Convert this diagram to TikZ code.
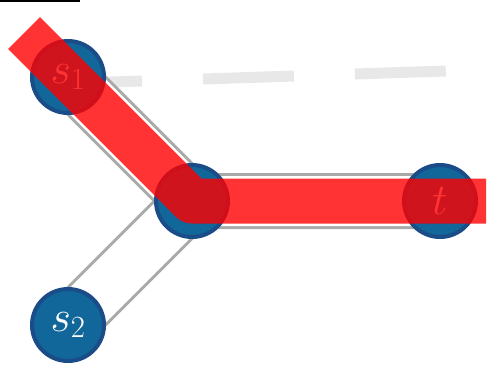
\RequirePackage{fix-cm}
\documentclass[tikz,border=0pt]{standalone}
\usetikzlibrary{calc,backgrounds}
\definecolor{vfill}{RGB}{17,102,154}
\definecolor{vline}{RGB}{26,76,135}
\definecolor{edgegray}{RGB}{168,170,168}
\definecolor{dashgray}{RGB}{232,232,232}
\tikzset{
  vertex/.style={circle, draw=vline, line width=4pt, fill=vfill, minimum size=72pt,
    inner sep=0pt, text=white, font=\fontsize{44}{44}\selectfont},
  edge/.style={draw=edgegray, line width=3pt, double=white, double distance=50pt},
  hint/.style={draw=dashgray, line width=11pt, dash pattern=on 91pt off 61pt},
  highlight/.style={draw=red, opacity=0.8, line width=45pt, line join=round, line cap=butt},
}
\begin{document}
\begin{tikzpicture}[x=1pt,y=-1pt]
  \useasboundingbox (0,0) rectangle (498,370);
  % short rule in the upper left corner
  \fill[black] (0,0) rectangle (80,1.7);

  % vertices
  \node[vertex] (s1) at (68,77) {$s_1$};
  \node[vertex] (m) at (192,201) {};
  \node[vertex] (t) at (440,201) {$t$};
  \node[vertex] (s2) at (68,325) {$s_2$};

  % light dashed hint starting behind s1
  \coordinate (d0) at (51,84);
  \coordinate (d1) at (446,71);

  \begin{scope}[on background layer]
    \draw[hint] (d0) -- (d1);
    \draw[edge] (s2.center) -- (m.center);
    \draw[edge] (s1.center) -- (m.center) -- (t.center);
  \end{scope}

  % highlighted path s1 -> m -> t
  \coordinate (h0) at ($(s1.center)+(-44,-44)$);
  \coordinate (h1) at ($(t.center)+(46,0)$);
  \draw[highlight] (h0) -- (s1.center) -- (m.center) -- (t.center) -- (h1);
\end{tikzpicture}
\end{document}
